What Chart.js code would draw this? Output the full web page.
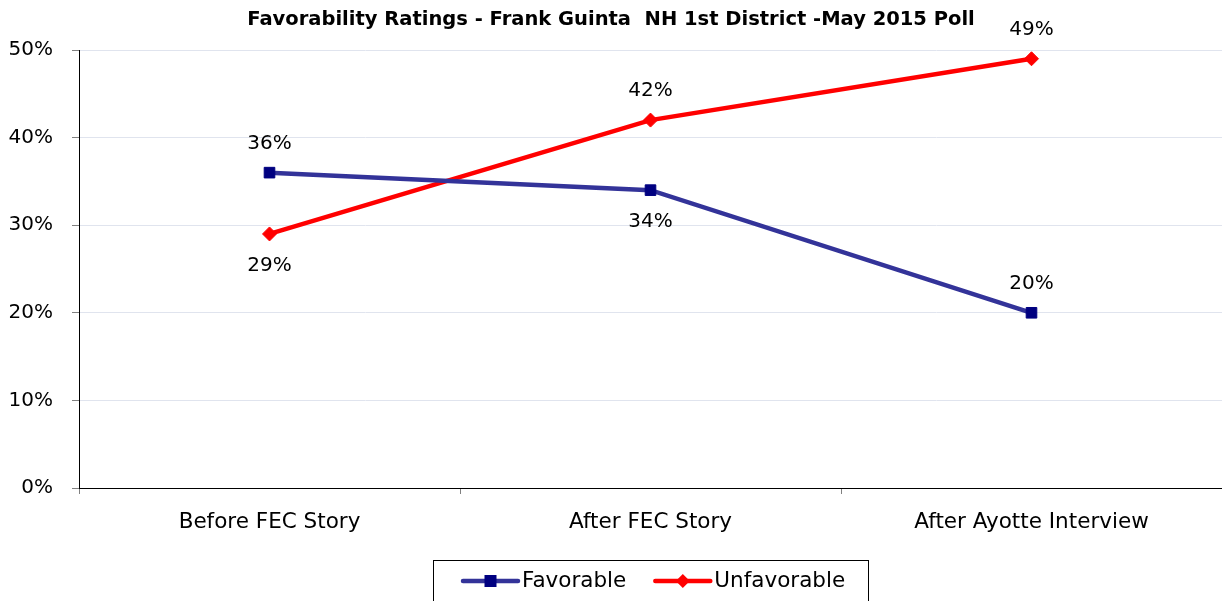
<!DOCTYPE html>
<html>
<head>
<meta charset="utf-8">
<script src="https://cdn.jsdelivr.net/npm/chart.js@4/dist/chart.umd.min.js"></script>
<style>
  html, body { margin: 0; padding: 0; background: #fff; }
  #wrap { width: 1222px; height: 601px; }
</style>
</head>
<body>
<div id="wrap"><canvas id="ratingChart" width="1222" height="601"></canvas></div>
<script>
const chartTitle = 'Favorability Ratings - Frank Guinta  NH 1st District -May 2015 Poll';
const categories = ['Before FEC Story', 'After FEC Story', 'After Ayotte Interview'];
const favorable = [36, 34, 20];
const unfavorable = [29, 42, 49];
const yTicks = [0, 10, 20, 30, 40, 50];
// which side of the point each value label sits on
const favorableLabelPos = ['above', 'below', 'above'];
const unfavorableLabelPos = ['below', 'above', 'above'];

const FONT = '"DejaVu Sans", sans-serif';
const FAV_LINE = '#333399';
const FAV_MARK = '#000080';
const UNF_COLOR = '#ff0000';

// value labels next to each point
const valueLabels = {
  id: 'valueLabels',
  afterDatasetsDraw(chart) {
    const ctx = chart.ctx;
    ctx.save();
    ctx.font = '20px ' + FONT;
    ctx.fillStyle = '#000';
    ctx.textAlign = 'center';
    ctx.textBaseline = 'middle';
    chart.data.datasets.forEach((ds, i) => {
      const meta = chart.getDatasetMeta(i);
      meta.data.forEach((pt, j) => {
        const side = ds.labelPos[j];
        const dy = side === 'above' ? -29 : 32;
        ctx.fillText(ds.data[j] + '%', pt.x, pt.y + dy);
      });
    });
    ctx.restore();
  }
};

// boxed legend at the bottom with line + marker samples
const boxLegend = {
  id: 'boxLegend',
  afterDraw(chart) {
    const ctx = chart.ctx;
    const area = chart.chartArea;
    const cx = (area.left + area.right) / 2;
    const boxW = 435, top = 560, cy = 581;
    ctx.save();
    ctx.strokeStyle = '#000';
    ctx.lineWidth = 1;
    ctx.strokeRect(Math.round(cx - boxW / 2) + 0.5, top + 0.5, boxW, 60);
    ctx.font = '21.5px ' + FONT;
    ctx.textBaseline = 'middle';
    ctx.textAlign = 'left';
    let x = cx - boxW / 2 + 30;
    chart.data.datasets.forEach(ds => {
      ctx.strokeStyle = ds.borderColor;
      ctx.lineWidth = 4.5;
      ctx.lineCap = 'round';
      ctx.beginPath();
      ctx.moveTo(x, cy);
      ctx.lineTo(x + 55, cy);
      ctx.stroke();
      ctx.fillStyle = ds.pointBackgroundColor;
      const mx = x + 27.5;
      if (ds.pointStyle === 'rect') {
        ctx.fillRect(mx - 6, cy - 6, 12, 12);
      } else {
        ctx.beginPath();
        ctx.moveTo(mx, cy - 7);
        ctx.lineTo(mx + 7, cy);
        ctx.lineTo(mx, cy + 7);
        ctx.lineTo(mx - 7, cy);
        ctx.closePath();
        ctx.fill();
      }
      ctx.fillStyle = '#000';
      ctx.fillText(ds.label, x + 59, cy);
      x += 59 + ctx.measureText(ds.label).width + 29;
    });
    ctx.restore();
  }
};

const ctx = document.getElementById('ratingChart').getContext('2d');
new Chart(ctx, {
  type: 'line',
  data: {
    labels: categories,
    datasets: [
      {
        label: 'Favorable',
        data: favorable,
        labelPos: favorableLabelPos,
        borderColor: FAV_LINE,
        backgroundColor: FAV_MARK,
        pointBackgroundColor: FAV_MARK,
        pointBorderColor: FAV_MARK,
        pointStyle: 'rect',
        pointRadius: 7.5,
        pointBorderWidth: 1,
        borderWidth: 4.5,
        tension: 0
      },
      {
        label: 'Unfavorable',
        data: unfavorable,
        labelPos: unfavorableLabelPos,
        borderColor: UNF_COLOR,
        backgroundColor: UNF_COLOR,
        pointBackgroundColor: UNF_COLOR,
        pointBorderColor: UNF_COLOR,
        pointStyle: 'rectRot',
        pointRadius: 7,
        pointBorderWidth: 1,
        borderWidth: 4.5,
        tension: 0
      }
    ]
  },
  options: {
    responsive: false,
    animation: false,
    layout: { padding: 0, autoPadding: false },
    plugins: {
      legend: { display: false },
      tooltip: { enabled: false },
      title: {
        display: true,
        text: chartTitle,
        color: '#000',
        font: { family: FONT, size: 19.5, weight: 'bold' },
        padding: { top: 8, bottom: 18.6 }
      }
    },
    scales: {
      x: {
        offset: true,
        grid: {
          offset: true,
          drawOnChartArea: false,
          tickLength: 6,
          tickColor: '#808080'
        },
        border: { color: '#000', width: 1 },
        ticks: {
          color: '#000',
          font: { family: FONT, size: 21.5 },
          padding: 16,
          maxRotation: 0
        },
        afterFit: s => {
          s.height = 113;
          s.paddingLeft = 0;
          s.paddingRight = 0;
        }
      },
      y: {
        min: 0,
        max: 50,
        afterBuildTicks: s => { s.ticks = yTicks.map(v => ({ value: v })); },
        grid: {
          color: '#e0e4ee',
          tickLength: 7,
          tickColor: '#808080'
        },
        border: { color: '#000', width: 1 },
        ticks: {
          color: '#000',
          font: { family: FONT, size: 20 },
          padding: 19,
          callback: v => v + '%'
        },
        afterFit: s => {
          s.width = 79;
          s.paddingTop = 0;
          s.paddingBottom = 0;
        }
      }
    }
  },
  plugins: [valueLabels, boxLegend]
});
</script>
</body>
</html>
